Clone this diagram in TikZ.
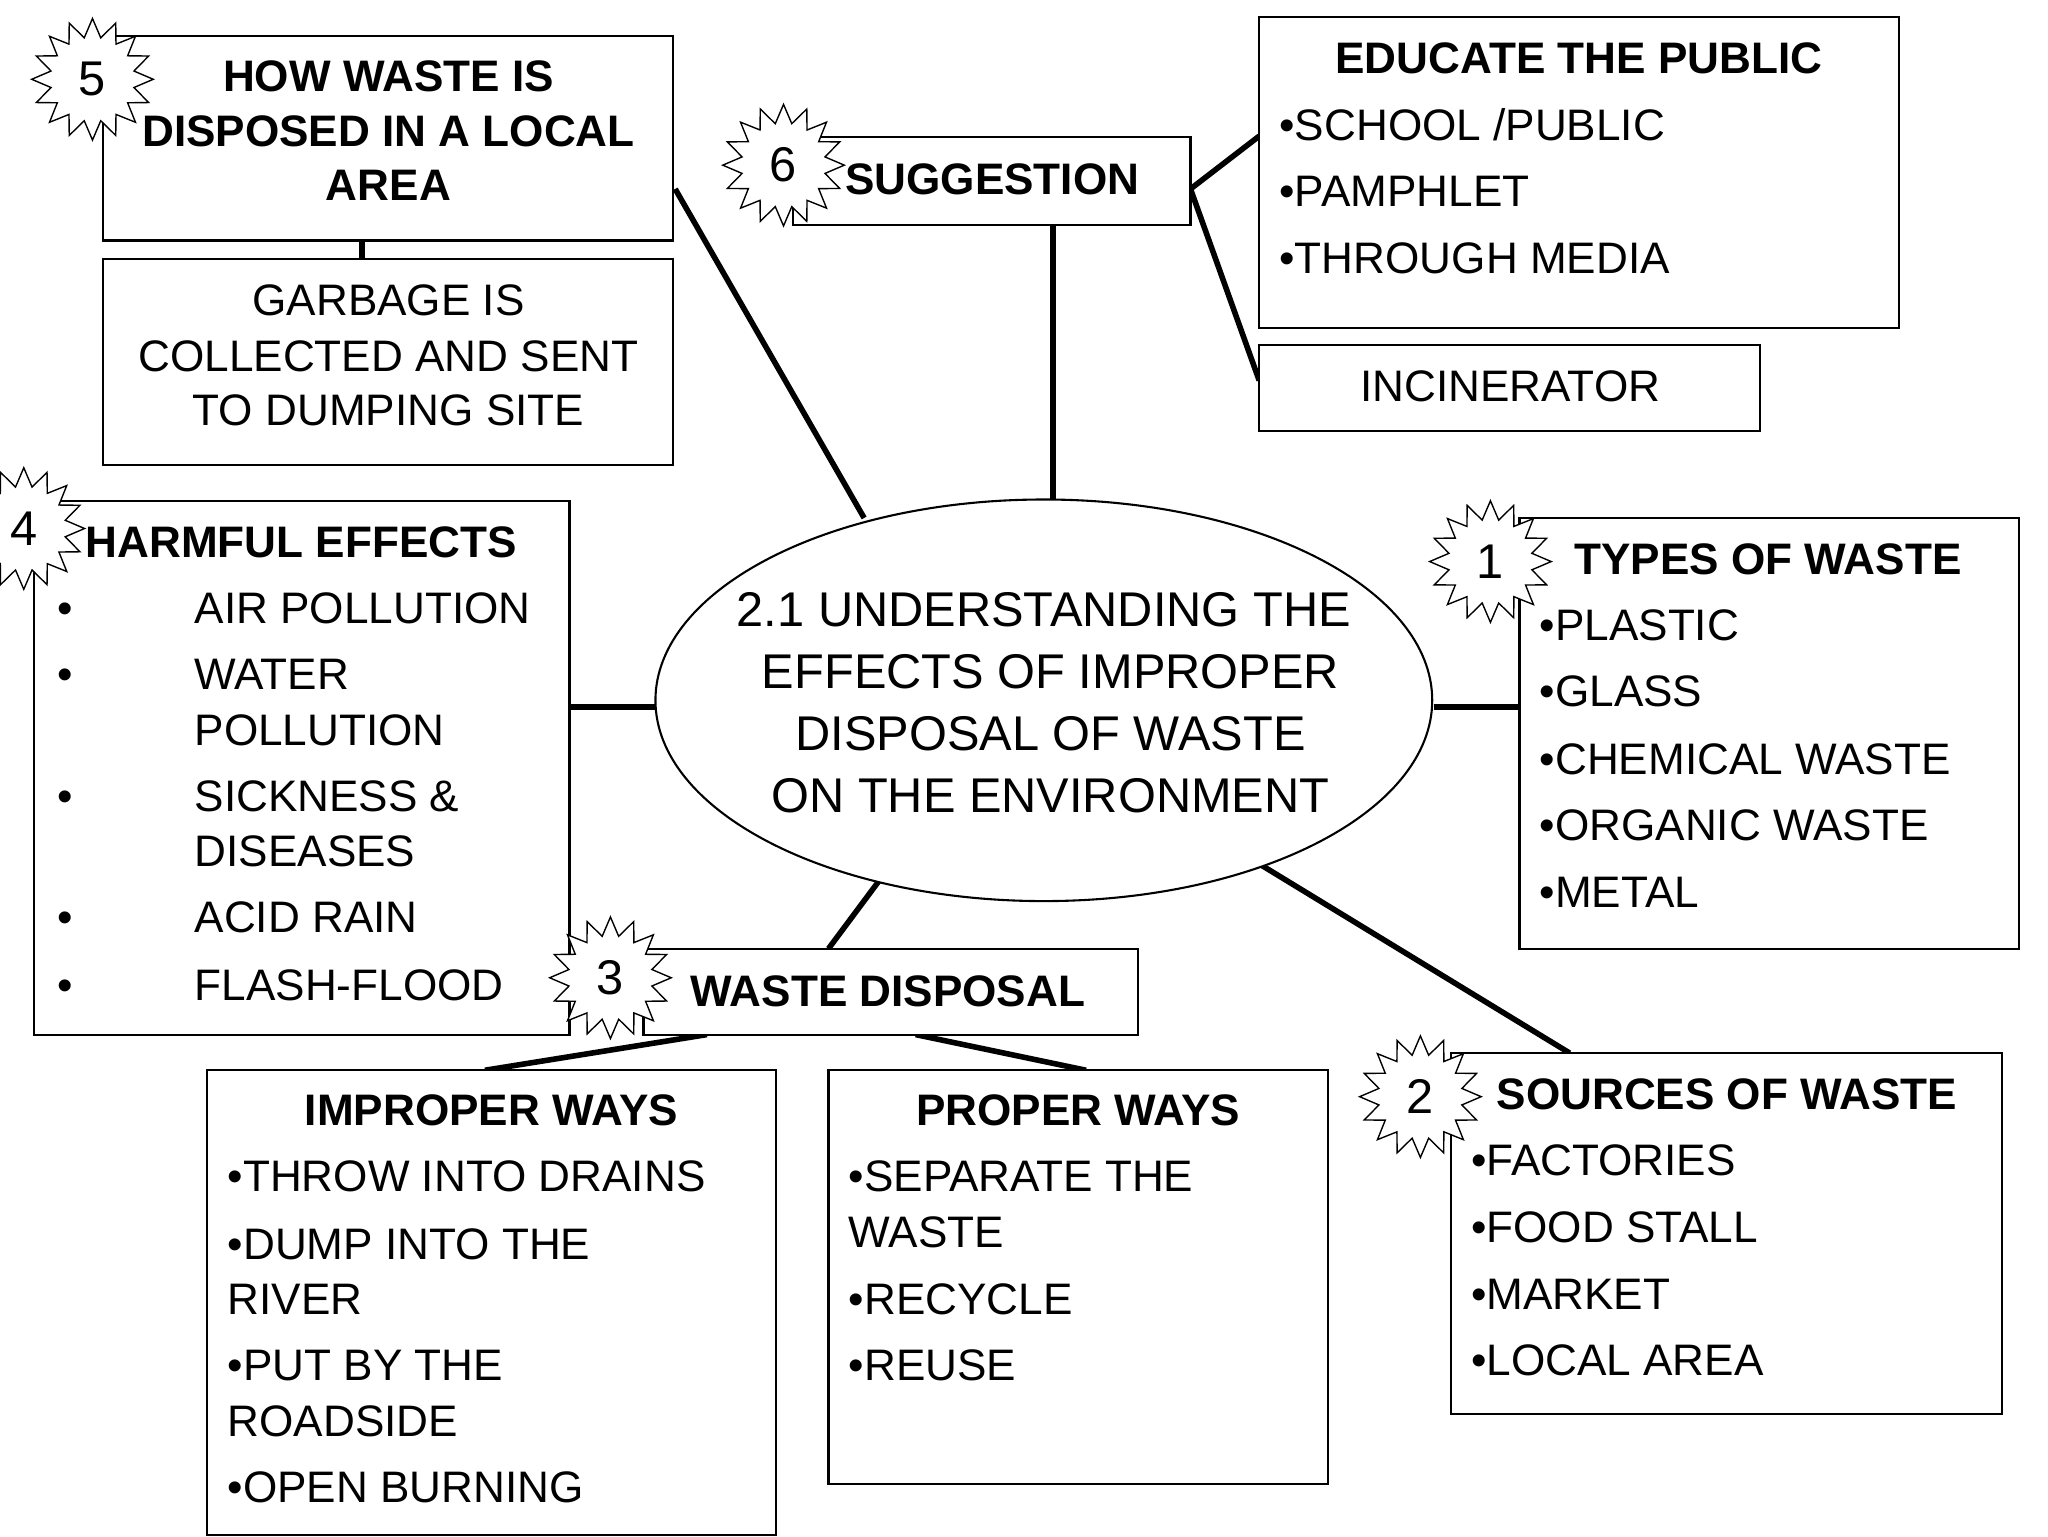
\documentclass[tikz,border=0pt]{standalone}
\usepackage{fontspec}
\usetikzlibrary{shapes.geometric}
\setmainfont{Liberation Sans}
\begin{document}
\begin{tikzpicture}[x=0.02cm,y=-0.02cm,
  box/.style={draw,line width=0.9pt},
  con/.style={line width=2.4pt},
  txt/.style={anchor=base west,inner sep=0,yshift=-0.24cm,font=\fontsize{19}{22}\selectfont},
  ctxt/.style={anchor=base,inner sep=0,yshift=-0.24cm,font=\fontsize{19}{22}\selectfont},
  btxt/.style={anchor=base,inner sep=0,yshift=-0.24cm,font=\fontsize{19}{22}\selectfont\bfseries},
  etxt/.style={anchor=base,inner sep=0,yshift=-0.26cm,font=\fontsize{21}{24}\selectfont},
  num/.style={inner sep=0,font=\fontsize{21}{24}\selectfont}]
\useasboundingbox[fill=white] (0,0) rectangle (1550,1163);
% connectors (drawn first)
\coordinate (s5) at (511,143); \coordinate (e5) at (654,392);
\coordinate (sgR) at (901,143); \coordinate (edL) at (953,103); \coordinate (inL) at (953,288);
\coordinate (sgB) at (797,170); \coordinate (elT) at (797,378);
\coordinate (hbR) at (431,535); \coordinate (elL) at (497,535);
\coordinate (elR) at (1085,535); \coordinate (tbL) at (1150,535);
\coordinate (elBR) at (955,655); \coordinate (srT) at (1188,797);
\coordinate (elB) at (665,667); \coordinate (wdT) at (627,718);
\coordinate (wdB1) at (535,783); \coordinate (imT) at (367,810);
\coordinate (wdB2) at (693,783); \coordinate (prT) at (822,810);
\coordinate (b5B) at (274,182); \coordinate (gbT) at (274,196);
\draw[con] (s5)--(e5); \draw[con] (sgR)--(edL); \draw[con] (sgR)--(inL);
\draw[con] (sgB)--(elT); \draw[con] (hbR)--(elL); \draw[con] (elR)--(tbL);
\draw[con] (elBR)--(srT); \draw[con] (elB)--(wdT); \draw[con] (wdB1)--(imT);
\draw[con] (wdB2)--(prT); \draw[con] (b5B)--(gbT);
% boxes
\draw[box,fill=white] (78,27) rectangle (509,182);
\draw[box,fill=white] (78,196) rectangle (509,352);
\draw[box,fill=white] (600,104) rectangle (901,170);
\draw[box,fill=white] (953,13) rectangle (1437,248);
\draw[box,fill=white] (953,261) rectangle (1332,326);
\draw[box,fill=white] (26,379) rectangle (431,783);
\draw[box,fill=white] (1150,392) rectangle (1528,718);
\draw[box,fill=white] (1098,797) rectangle (1515,1070);
\draw[box,fill=white] (487,718) rectangle (861,783);
\draw[box,fill=white] (157,810) rectangle (587,1162);
\draw[box,fill=white] (627,810) rectangle (1005,1123);
\node[draw,ellipse,line width=0.9pt,inner sep=0,
  minimum width=11.76cm,minimum height=6.08cm,fill=white] (el) at (790,530) {};
% starbursts
\foreach \n/\cx/\cy in {5/70/60,6/593/125,4/18/400,1/1128/425,3/462/740,2/1075/830}{
  \draw[line width=0.6pt,fill=white] plot[samples=33,domain=0:360,variable=\t]
    ({\cx+(39+7*cos(16*\t))*cos(\t)},{\cy+(39+7*cos(16*\t))*sin(\t)}) -- cycle;
  \node[num] (star\n) at (\cx,\cy) {\n};
}
% texts
\node[btxt] (t5a) at (294,57) {HOW WASTE IS};
\node[btxt] (t5b) at (294,99) {DISPOSED IN A LOCAL};
\node[btxt] (t5c) at (294,140) {AREA};
\node[ctxt] (g1) at (294,227) {GARBAGE IS};
\node[ctxt] (g2) at (294,269) {COLLECTED AND SENT};
\node[ctxt] (g3) at (294,310) {TO DUMPING SITE};
\node[btxt] (sg) at (751,135) {SUGGESTION};
\node[btxt] (ed) at (1195,44) {EDUCATE THE PUBLIC};
\node[txt] (ed1) at (968,94) {•SCHOOL /PUBLIC};
\node[txt] (ed2) at (968,144) {•PAMPHLET};
\node[txt] (ed3) at (968,195) {•THROUGH MEDIA};
\node[ctxt] (inc) at (1143,292) {INCINERATOR};
\node[btxt] (hf) at (228,410) {HARMFUL EFFECTS};
\foreach \y in {460,510,602,694,745}{\node[txt] at (43,\y) {•};}
\node[txt] (h1) at (147,460) {AIR POLLUTION};
\node[txt] (h2) at (147,510) {WATER};
\node[txt] (h3) at (147,552) {POLLUTION};
\node[txt] (h4) at (147,602) {SICKNESS \&};
\node[txt] (h5) at (147,644) {DISEASES};
\node[txt] (h6) at (147,694) {ACID RAIN};
\node[txt] (h7) at (147,745) {FLASH-FLOOD};
\node[btxt] (tw) at (1338,423) {TYPES OF WASTE};
\node[txt] (tw1) at (1165,473) {•PLASTIC};
\node[txt] (tw2) at (1165,523) {•GLASS};
\node[txt] (tw3) at (1165,574) {•CHEMICAL WASTE};
\node[txt] (tw4) at (1165,624) {•ORGANIC WASTE};
\node[txt] (tw5) at (1165,675) {•METAL};
\node[btxt] (sw) at (1307,828) {SOURCES OF WASTE};
\node[txt] (sw1) at (1113,878) {•FACTORIES};
\node[txt] (sw2) at (1113,928) {•FOOD STALL};
\node[txt] (sw3) at (1113,979) {•MARKET};
\node[txt] (sw4) at (1113,1029) {•LOCAL AREA};
\node[btxt] (wd) at (672,750) {WASTE DISPOSAL};
\node[btxt] (iw) at (372,840) {IMPROPER WAYS};
\node[txt] (iw1) at (172,890) {•THROW INTO DRAINS};
\node[txt] (iw2) at (172,941) {•DUMP INTO THE};
\node[txt] (iw3) at (172,983) {RIVER};
\node[txt] (iw4) at (172,1033) {•PUT BY THE};
\node[txt] (iw5) at (172,1075) {ROADSIDE};
\node[txt] (iw6) at (172,1125) {•OPEN BURNING};
\node[btxt] (pw) at (816,840) {PROPER WAYS};
\node[txt] (pw1) at (642,890) {•SEPARATE THE};
\node[txt] (pw2) at (642,932) {WASTE};
\node[txt] (pw3) at (642,983) {•RECYCLE};
\node[txt] (pw4) at (642,1033) {•REUSE};
\node[etxt] (c1) at (790,461) {2.1 UNDERSTANDING THE};
\node[etxt] (c2) at (795,508) {EFFECTS OF IMPROPER};
\node[etxt] (c3) at (795,555) {DISPOSAL OF WASTE};
\node[etxt] (c4) at (795,602) {ON THE ENVIRONMENT};
\end{tikzpicture}
\end{document}
